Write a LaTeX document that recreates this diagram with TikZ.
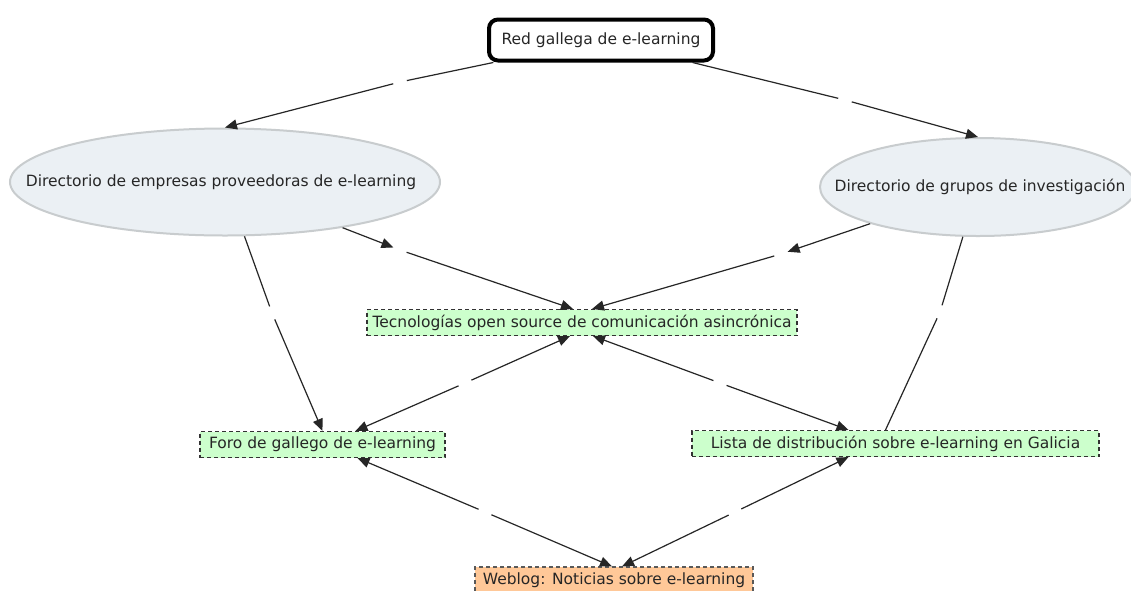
\documentclass[tikz,border=0pt]{standalone}
\usepackage{fontspec}
\setmainfont{DejaVu Sans}
\usetikzlibrary{shapes.geometric,arrows.meta,calc}
\definecolor{ellfill}{RGB}{235,240,244}
\definecolor{ellline}{RGB}{200,204,206}
\definecolor{grn}{RGB}{204,255,204}
\definecolor{org}{RGB}{255,200,152}
\tikzset{
 txt/.style={font=\fontsize{15.5pt}{18pt}\selectfont, text=black!85},
 topbox/.style={txt, draw=black, line width=4pt, rounded corners=9pt, fill=white, minimum width=224pt, minimum height=41pt, inner sep=0pt},
 ell/.style={ellipse, draw=ellline, line width=2pt, fill=ellfill, inner sep=0pt},
 res/.style={txt, draw=black!80, line width=1.1pt, dash pattern=on 4pt off 3pt, fill=grn, minimum height=26pt, inner xsep=4pt, inner ysep=0pt},
 web/.style={res, fill=org, draw=black!65},
 ln/.style={line width=1.2pt, draw=black!85},
 arr/.style={-{Triangle[length=12pt,width=10pt]}},
 gapA/.style={shorten >=7pt},
 gapB/.style={shorten <=7pt},
}
\begin{document}
\begin{tikzpicture}[x=1pt,y=-1pt]
\clip (0,0) rectangle (1131,590);
\fill[white] (0,0) rectangle (1131,590);
% nodes
\node[topbox] (red) at (601,40) {Red gallega de e-learning};
\node[ell, minimum width=430pt, minimum height=107pt] (de) at (225,182) {};
\node[txt] (detxt) at (221,182) {Directorio de empresas proveedoras de e-learning};
\node[ell, minimum width=316pt, minimum height=98pt] (dg) at (978,187) {};
\node[txt] (dgtxt) at (980,187) {Directorio de grupos de investigación};
\node[res, minimum width=430pt] (tec) at (582,322.5) {Tecnologías open source de comunicación asincrónica};
\node[res, minimum width=245pt] (foro) at (322.5,444.5) {Foro de gallego de e-learning};
\node[res, minimum width=407pt] (lista) at (895.5,443.5) {Lista de distribución sobre e-learning en Galicia};
\node[web, minimum width=278pt] (weblog) at (614,580) {Weblog: Noticias sobre e-learning};
% link points (empty linking phrases)
\coordinate (l1) at (400,82);
\coordinate (l2) at (845,100);
\coordinate (l3) at (400,250);
\coordinate (l4) at (781,254);
\coordinate (l5) at (272,313);
\coordinate (l6) at (940,312);
\coordinate (l7) at (465,383);
\coordinate (l8) at (720,383);
\coordinate (l9) at (485,512);
\coordinate (l10) at (735,512);
% connectors
\draw[ln, gapA] (red) -- (l1);
\draw[ln, gapB, arr] (l1) -- (de.north);
\draw[ln, gapA] (red) -- (l2);
\draw[ln, gapB, arr] (l2) -- (dg.north);
\draw[ln, gapA, arr] (de) -- (l3);
\draw[ln, gapB, arr] (l3) -- ($(tec.north)+(-9,0)$);
\draw[ln, gapA, arr] (dg) -- (l4);
\draw[ln, gapB, arr] (l4) -- ($(tec.north)+(10,0)$);
\draw[ln, gapA] (de) -- (l5);
\draw[ln, gapB, arr] (l5) -- (foro.north);
\draw[ln, gapA] (dg) -- (l6);
\draw[ln, gapB] (l6) -- ($(lista.north)+(-10,0)$);
\draw[ln, gapB, arr] (l7) -- ($(tec.south)+(-12,0)$);
\draw[ln, gapB, arr] (l7) -- ($(foro.north)+(33,0)$);
\draw[ln, gapB, arr] (l8) -- ($(tec.south)+(11,0)$);
\draw[ln, gapB, arr] (l8) -- ($(lista.north)+(-47,0)$);
\draw[ln, gapB, arr] (l9) -- ($(foro.south)+(35,0)$);
\draw[ln, gapB, arr] (l9) -- ($(weblog.north)+(-2,0)$);
\draw[ln, gapB, arr] (l10) -- ($(lista.south)+(-47,0)$);
\draw[ln, gapB, arr] (l10) -- ($(weblog.north)+(8,0)$);
\end{tikzpicture}
\end{document}
